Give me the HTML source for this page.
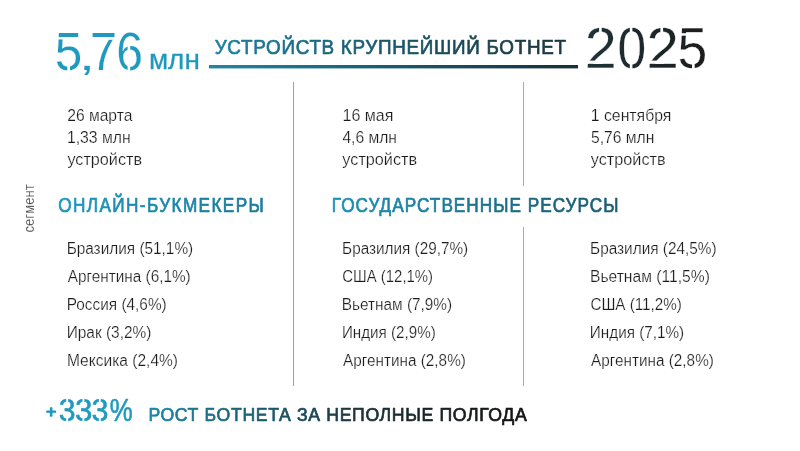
<!DOCTYPE html>
<html lang="ru"><head><meta charset="utf-8"><title>Ботнет 2025</title>
<style>
html,body{margin:0;padding:0;background:#fff;width:800px;height:451px;overflow:hidden}
svg{display:block;will-change:transform}
text{font-family:"Liberation Sans", Arial, sans-serif;}
</style></head><body>
<svg width="800" height="451" viewBox="0 0 800 451">
<defs>
<linearGradient id="gTitle" gradientUnits="userSpaceOnUse" x1="215" y1="0" x2="566" y2="0"><stop offset="0" stop-color="#1b81a1"/><stop offset="0.5" stop-color="#1a5a6e"/><stop offset="1" stop-color="#1b3943"/></linearGradient>
<linearGradient id="gLine" gradientUnits="userSpaceOnUse" x1="209" y1="0" x2="578" y2="0"><stop offset="0" stop-color="#1d88a6"/><stop offset="0.25" stop-color="#1a7089"/><stop offset="0.49" stop-color="#1a5b6d"/><stop offset="1" stop-color="#182f38"/></linearGradient>
<linearGradient id="gYear" gradientUnits="userSpaceOnUse" x1="588" y1="0" x2="705" y2="0"><stop offset="0" stop-color="#1f3238"/><stop offset="1" stop-color="#1c1c1c"/></linearGradient>
<linearGradient id="gH1" gradientUnits="userSpaceOnUse" x1="59" y1="0" x2="263" y2="0"><stop offset="0" stop-color="#1d98be"/><stop offset="1" stop-color="#1a7b9b"/></linearGradient>
<linearGradient id="gH2" gradientUnits="userSpaceOnUse" x1="333" y1="0" x2="617" y2="0"><stop offset="0" stop-color="#1b91b6"/><stop offset="1" stop-color="#1b5f76"/></linearGradient>
<linearGradient id="gBottom" gradientUnits="userSpaceOnUse" x1="150" y1="0" x2="527" y2="0"><stop offset="0" stop-color="#1a86a8"/><stop offset="0.2" stop-color="#1a6a80"/><stop offset="0.37" stop-color="#1b5466"/><stop offset="0.61" stop-color="#1c3138"/><stop offset="1" stop-color="#151515"/></linearGradient>
</defs>
<rect x="209" y="65" width="369" height="3.4" fill="url(#gLine)"/>
<rect x="293" y="82" width="1" height="304" fill="#a0a0a0"/>
<rect x="523" y="82" width="1" height="104" fill="#aaaaaa"/>
<rect x="523" y="227" width="1" height="159" fill="#aaaaaa"/>
<text id="seg" transform="translate(34 232.5) rotate(-90)" font-size="15" fill="#2a2a2a" stroke="#fff" stroke-width="0.22" textLength="48.2" lengthAdjust="spacingAndGlyphs">сегмент</text>
<text id="big576" y="70" font-size="54" fill="#1f9abe" stroke="#fff" stroke-width="0.2"><tspan x="54.75" textLength="27.54" lengthAdjust="spacingAndGlyphs">5</tspan><tspan x="78.25" font-size="40" textLength="17.46" lengthAdjust="spacingAndGlyphs">,</tspan><tspan x="90.05" textLength="27.10" lengthAdjust="spacingAndGlyphs">7</tspan><tspan x="116.16" textLength="26.69" lengthAdjust="spacingAndGlyphs">6</tspan></text>
<text id="mln" x="148.90" y="68.8" font-size="28.5" fill="#1f98bb" stroke="#1f98bb" stroke-width="0.3" stroke-linejoin="round" textLength="50.98" lengthAdjust="spacingAndGlyphs">млн</text>
<text id="title" x="214.65" y="54" font-size="20.5" fill="url(#gTitle)" stroke="url(#gTitle)" stroke-width="0.7" stroke-linejoin="round" textLength="381.96" lengthAdjust="spacing" transform="matrix(0.92 0 0 1 17.172 0)">УСТРОЙСТВ КРУПНЕЙШИЙ БОТНЕТ</text>
<text id="y2025" y="67.6" font-size="57" fill="url(#gYear)" stroke="#fff" stroke-width="0.3"><tspan x="584.87" textLength="31.97" lengthAdjust="spacingAndGlyphs">2</tspan><tspan x="617.44" textLength="28.71" lengthAdjust="spacingAndGlyphs">0</tspan><tspan x="646.41" textLength="32.39" lengthAdjust="spacingAndGlyphs">2</tspan><tspan x="677.41" textLength="29.74" lengthAdjust="spacingAndGlyphs">5</tspan></text>
<text id="info00" x="67.19" y="121" font-size="17" fill="#1c1c1c" stroke="#fff" stroke-width="0.22" textLength="65.20" lengthAdjust="spacingAndGlyphs">26 марта</text>
<text id="info01" x="66.88" y="143" font-size="17" fill="#1c1c1c" stroke="#fff" stroke-width="0.22" textLength="63.74" lengthAdjust="spacingAndGlyphs">1,33 млн</text>
<text id="info02" x="67.44" y="165" font-size="17" fill="#1c1c1c" stroke="#fff" stroke-width="0.22" textLength="74.58" lengthAdjust="spacingAndGlyphs">устройств</text>
<text id="info10" x="342.48" y="121" font-size="17" fill="#1c1c1c" stroke="#fff" stroke-width="0.22" textLength="50.99" lengthAdjust="spacingAndGlyphs">16 мая</text>
<text id="info11" x="342.40" y="143" font-size="17" fill="#1c1c1c" stroke="#fff" stroke-width="0.22" textLength="54.58" lengthAdjust="spacingAndGlyphs">4,6 млн</text>
<text id="info12" x="342.35" y="165" font-size="17" fill="#1c1c1c" stroke="#fff" stroke-width="0.22" textLength="74.77" lengthAdjust="spacingAndGlyphs">устройств</text>
<text id="info20" x="590.73" y="121" font-size="17" fill="#1c1c1c" stroke="#fff" stroke-width="0.22" textLength="80.71" lengthAdjust="spacingAndGlyphs">1 сентября</text>
<text id="info21" x="590.94" y="143" font-size="17" fill="#1c1c1c" stroke="#fff" stroke-width="0.22" textLength="63.47" lengthAdjust="spacingAndGlyphs">5,76 млн</text>
<text id="info22" x="590.79" y="165" font-size="17" fill="#1c1c1c" stroke="#fff" stroke-width="0.22" textLength="74.81" lengthAdjust="spacingAndGlyphs">устройств</text>
<text id="h1" x="58.16" y="212" font-size="20" fill="url(#gH1)" stroke="url(#gH1)" stroke-width="0.7" stroke-linejoin="round" textLength="239.11" lengthAdjust="spacing" transform="matrix(0.86 0 0 1 8.143 0)">ОНЛАЙН-БУКМЕКЕРЫ</text>
<text id="h2" x="331.84" y="212" font-size="20" fill="url(#gH2)" stroke="url(#gH2)" stroke-width="0.7" stroke-linejoin="round" textLength="333.25" lengthAdjust="spacing" transform="matrix(0.86 0 0 1 46.457 0)">ГОСУДАРСТВЕННЫЕ РЕСУРСЫ</text>
<text id="l00" x="66.63" y="253.5" font-size="16" fill="#1c1c1c" stroke="#fff" stroke-width="0.22" textLength="126.55" lengthAdjust="spacingAndGlyphs">Бразилия (51,1%)</text>
<text id="l01" x="67.71" y="281.5" font-size="16" fill="#1c1c1c" stroke="#fff" stroke-width="0.22" textLength="122.97" lengthAdjust="spacingAndGlyphs">Аргентина (6,1%)</text>
<text id="l02" x="66.70" y="309.5" font-size="16" fill="#1c1c1c" stroke="#fff" stroke-width="0.22" textLength="100.00" lengthAdjust="spacingAndGlyphs">Россия (4,6%)</text>
<text id="l03" x="66.73" y="337.5" font-size="16" fill="#1c1c1c" stroke="#fff" stroke-width="0.22" textLength="84.64" lengthAdjust="spacingAndGlyphs">Ирак (3,2%)</text>
<text id="l04" x="66.99" y="365.5" font-size="16" fill="#1c1c1c" stroke="#fff" stroke-width="0.22" textLength="111.04" lengthAdjust="spacingAndGlyphs">Мексика (2,4%)</text>
<text id="l10" x="342.12" y="253.5" font-size="16" fill="#1c1c1c" stroke="#fff" stroke-width="0.22" textLength="126.07" lengthAdjust="spacingAndGlyphs">Бразилия (29,7%)</text>
<text id="l11" x="342.30" y="281.5" font-size="16" fill="#1c1c1c" stroke="#fff" stroke-width="0.22" textLength="90.74" lengthAdjust="spacingAndGlyphs">США (12,1%)</text>
<text id="l12" x="341.81" y="309.5" font-size="16" fill="#1c1c1c" stroke="#fff" stroke-width="0.22" textLength="110.30" lengthAdjust="spacingAndGlyphs">Вьетнам (7,9%)</text>
<text id="l13" x="341.89" y="337.5" font-size="16" fill="#1c1c1c" stroke="#fff" stroke-width="0.22" textLength="93.81" lengthAdjust="spacingAndGlyphs">Индия (2,9%)</text>
<text id="l14" x="343.12" y="365.5" font-size="16" fill="#1c1c1c" stroke="#fff" stroke-width="0.22" textLength="122.71" lengthAdjust="spacingAndGlyphs">Аргентина (2,8%)</text>
<text id="l20" x="590.09" y="253.5" font-size="16" fill="#1c1c1c" stroke="#fff" stroke-width="0.22" textLength="126.56" lengthAdjust="spacingAndGlyphs">Бразилия (24,5%)</text>
<text id="l21" x="589.96" y="281.5" font-size="16" fill="#1c1c1c" stroke="#fff" stroke-width="0.22" textLength="119.90" lengthAdjust="spacingAndGlyphs">Вьетнам (11,5%)</text>
<text id="l22" x="590.46" y="309.5" font-size="16" fill="#1c1c1c" stroke="#fff" stroke-width="0.22" textLength="91.39" lengthAdjust="spacingAndGlyphs">США (11,2%)</text>
<text id="l23" x="589.84" y="337.5" font-size="16" fill="#1c1c1c" stroke="#fff" stroke-width="0.22" textLength="94.33" lengthAdjust="spacingAndGlyphs">Индия (7,1%)</text>
<text id="l24" x="591.12" y="365.5" font-size="16" fill="#1c1c1c" stroke="#fff" stroke-width="0.22" textLength="122.71" lengthAdjust="spacingAndGlyphs">Аргентина (2,8%)</text>
<text id="plus" x="45.98" y="416.9" font-size="17" fill="#1f9abe" stroke="#1f9abe" stroke-width="1.25" stroke-linejoin="round" textLength="10.34" lengthAdjust="spacingAndGlyphs">+</text>
<text id="p333" y="421" font-size="32" fill="#1f9abe" stroke="#1f9abe" stroke-width="0.6" stroke-linejoin="round"><tspan x="58.74" textLength="16.77" lengthAdjust="spacingAndGlyphs">3</tspan><tspan x="75.02" textLength="17.41" lengthAdjust="spacingAndGlyphs">3</tspan><tspan x="91.60" textLength="16.98" lengthAdjust="spacingAndGlyphs">3</tspan><tspan x="109.76" textLength="22.95" lengthAdjust="spacingAndGlyphs">%</tspan></text>
<text id="bottom" x="148.40" y="420.75" font-size="19" fill="url(#gBottom)" stroke="url(#gBottom)" stroke-width="0.7" stroke-linejoin="round" textLength="406.82" lengthAdjust="spacing" transform="matrix(0.93 0 0 1 10.388 0)">РОСТ БОТНЕТА ЗА НЕПОЛНЫЕ ПОЛГОДА</text>
<g fill="#fff">
<rect x="599.1" y="25" width="2.6" height="10"/>
<rect x="585" y="60.6" width="18" height="3.2"/>
<rect x="629.8" y="25" width="2.6" height="10"/>
<rect x="629.8" y="61" width="2.6" height="10"/>
<rect x="660.4" y="25" width="2.7" height="10"/>
<rect x="646" y="60.6" width="18" height="3.2"/>
<rect x="678" y="33.2" width="10" height="2.5"/>
<rect x="692" y="60" width="2.7" height="10"/>
<rect x="55" y="37.2" width="10" height="2.2"/>
<rect x="67.3" y="62" width="2.7" height="10"/>
<rect x="100" y="37.2" width="17" height="2.6"/>
<rect x="127.6" y="43" width="2.6" height="9"/>
<rect x="127.6" y="62" width="2.6" height="10"/>
<rect x="66.2" y="397" width="1.9" height="7.5"/>
<rect x="66.2" y="415.5" width="1.9" height="7"/>
<rect x="82.5" y="397" width="1.8" height="7.5"/>
<rect x="82.5" y="415.5" width="1.8" height="7"/>
<rect x="98.9" y="397" width="1.8" height="7.5"/>
<rect x="98.9" y="415.5" width="1.8" height="7"/>
</g>
</svg>
</body></html>
